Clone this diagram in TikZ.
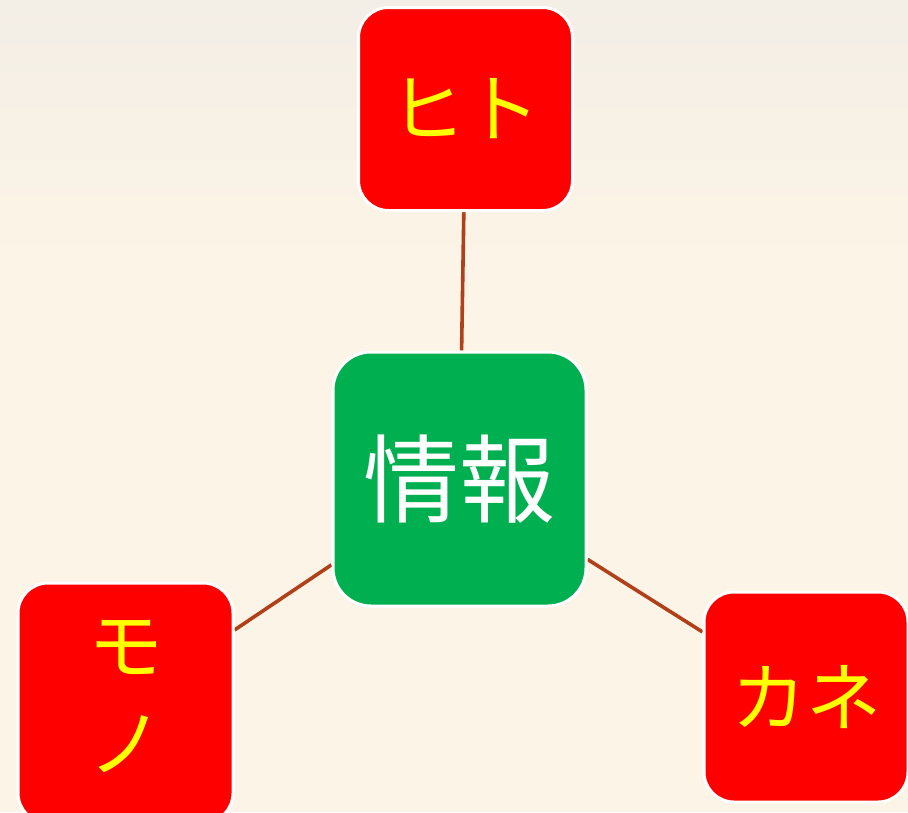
\documentclass[tikz,border=0pt]{standalone}
\usepackage{fontspec}
\newfontfamily\jp{Noto Sans CJK JP}
\definecolor{paper}{HTML}{FCF4E6}
\definecolor{papertop}{HTML}{F3EEE6}
\definecolor{boxred}{HTML}{FF0000}
\definecolor{boxgreen}{HTML}{00B050}
\definecolor{txtyellow}{HTML}{FFFF00}
\definecolor{linkbrown}{HTML}{B0401A}
\pgfdeclarelayer{back}
\pgfdeclarelayer{edges}
\pgfsetlayers{back,edges,main}
\tikzset{
  item/.style={rectangle, draw=white, line width=3pt, fill=boxred,
    rounded corners=30pt, text=txtyellow, align=center, inner sep=0pt,
    font=\jp\fontsize{75}{98}\selectfont},
  core/.style={item, fill=boxgreen, text=white, rounded corners=38pt,
    font=\jp\fontsize{96}{110}\selectfont},
  link/.style={draw=linkbrown, line width=3.6pt}
}
\begin{document}
\begin{tikzpicture}[x=1pt,y=-1pt]
\begin{pgfonlayer}{back}
  \fill[paper] (0,0) rectangle (908,812);
  \shade[top color=papertop, bottom color=paper] (0,0) rectangle (908,260);
\end{pgfonlayer}
\useasboundingbox (0,0) rectangle (908,812);
\node[core, minimum width=253pt, minimum height=254pt] (joho) at (459.5,479) {\raisebox{4pt}{情報}};
\node[item, minimum width=214pt, minimum height=203pt] (hito) at (465.5,109) {ヒト};
\node[item, minimum width=215pt, minimum height=240pt] (mono) at (125.5,703)
  {\raisebox{7pt}{\begin{tabular}{@{}c@{}}モ\\ノ\end{tabular}}};
\node[item, minimum width=204pt, minimum height=210pt] (kane) at (806,697) {カネ};
\begin{pgfonlayer}{edges}
  \draw[link] (joho) -- (hito);
  \draw[link] (joho) -- (mono);
  \draw[link] (joho) -- (kane);
\end{pgfonlayer}
\end{tikzpicture}
\end{document}
